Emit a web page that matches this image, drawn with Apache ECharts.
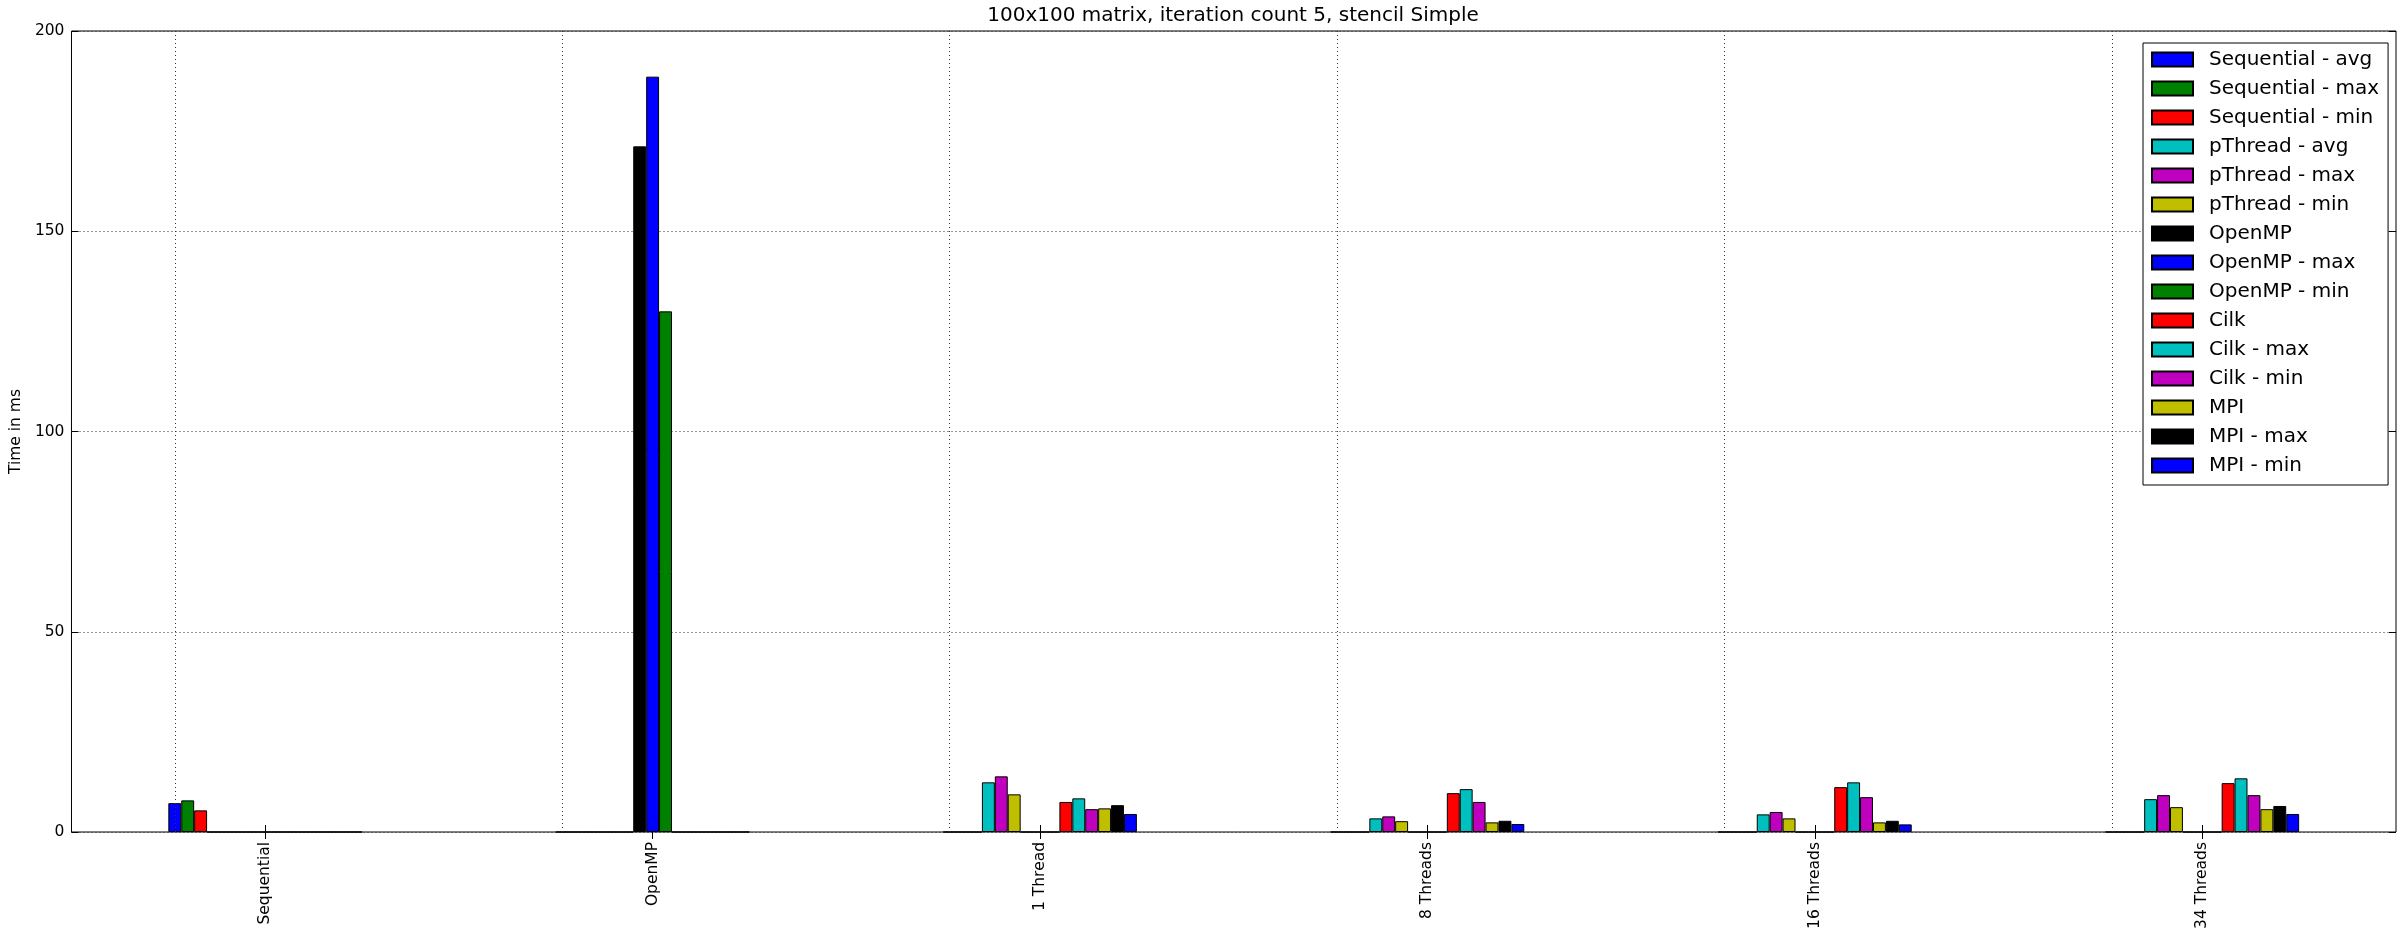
<!DOCTYPE html>
<html>
<head>
<meta charset="utf-8">
<script src="https://cdn.jsdelivr.net/npm/echarts@6/dist/echarts.min.js"></script>
<style>
html,body{margin:0;padding:0;background:#fff;}
#chart{width:2404px;height:940px;}
</style>
</head>
<body>
<div id="chart"></div>
<script>
const categories = ['Sequential', 'OpenMP', '1 Thread', '8 Threads', '16 Threads', '34 Threads'];
const yTicks = [0, 50, 100, 150, 200];

const seqAvg     = [7.2, 0, 0, 0, 0, 0];
const seqMax     = [7.9, 0, 0, 0, 0, 0];
const seqMin     = [5.4, 0, 0, 0, 0, 0];
const pthAvg     = [0, 0, 12.4, 3.4, 4.4, 8.2];
const pthMax     = [0, 0, 13.9, 3.9, 5.0, 9.2];
const pthMin     = [0, 0, 9.4, 2.7, 3.4, 6.2];
const ompAvg     = [0, 171.2, 0, 0, 0, 0];
const ompMax     = [0, 188.6, 0, 0, 0, 0];
const ompMin     = [0, 130.0, 0, 0, 0, 0];
const cilkAvg    = [0, 0, 7.5, 9.7, 11.2, 12.2];
const cilkMax    = [0, 0, 8.4, 10.7, 12.4, 13.4];
const cilkMin    = [0, 0, 5.7, 7.5, 8.7, 9.2];
const mpiAvg     = [0, 0, 5.9, 2.4, 2.4, 5.7];
const mpiMax     = [0, 0, 6.7, 2.8, 2.8, 6.5];
const mpiMin     = [0, 0, 4.5, 2.0, 1.9, 4.5];

const seriesNames = ['Sequential - avg', 'Sequential - max', 'Sequential - min',
  'pThread - avg', 'pThread - max', 'pThread - min',
  'OpenMP', 'OpenMP - max', 'OpenMP - min',
  'Cilk', 'Cilk - max', 'Cilk - min',
  'MPI', 'MPI - max', 'MPI - min'];
const seriesData = [seqAvg, seqMax, seqMin, pthAvg, pthMax, pthMin,
  ompAvg, ompMax, ompMin, cilkAvg, cilkMax, cilkMin, mpiAvg, mpiMax, mpiMin];
const seriesColors = ['#0000ff', '#008000', '#ff0000', '#00bfbf', '#bf00bf', '#bfbf00',
  '#000000', '#0000ff', '#008000', '#ff0000', '#00bfbf', '#bf00bf', '#bfbf00', '#000000', '#0000ff'];

const FONT = 'DejaVu Sans';
const chart = echarts.init(document.getElementById('chart'), null, {renderer: 'canvas'});

const series = seriesNames.map((name, i) => {
  const s = {
    name: name,
    type: 'bar',
    data: seriesData[i],
    barWidth: (100 / 30) + '%',
    barGap: '0%',
    itemStyle: {color: seriesColors[i], borderColor: '#000', borderWidth: 1},
    emphasis: {disabled: true}
  };
  if (i === 0) {
    s.markLine = {
      silent: true,
      symbol: 'none',
      animation: false,
      label: {show: false},
      lineStyle: {color: '#333', type: [1, 3], width: 1},
      data: categories.map(c => ({xAxis: c}))
    };
  }
  return s;
});

const option = {
  animation: false,
  backgroundColor: '#fff',
  title: {
    text: '100x100 matrix, iteration count 5, stencil Simple',
    left: 1233,
    textAlign: 'center',
    top: 6,
    padding: 0,
    textStyle: {fontFamily: FONT, fontSize: 20, fontWeight: 'normal', color: '#000'}
  },
  grid: {left: 70, top: 31, width: 2326, height: 801, show: true, borderColor: '#000', borderWidth: 1, backgroundColor: 'transparent'},
  legend: {
    orient: 'vertical',
    left: 2143,
    top: 43,
    padding: [2, 9, 5, 8],
    itemGap: 0,
    itemWidth: 41,
    itemHeight: 14,
    icon: 'rect',
    borderColor: '#000',
    borderWidth: 1,
    backgroundColor: '#fff',
    selectedMode: false,
    textStyle: {fontFamily: FONT, fontSize: 20, color: '#000', lineHeight: 29, padding: [0, 0, 0, 11]},
    data: seriesNames
  },
  xAxis: [{
    type: 'category',
    data: categories,
    position: 'bottom',
    axisLine: {show: false},
    axisTick: {show: true, alignWithLabel: true, inside: true, length: 7, lineStyle: {color: '#000'}},
    axisLabel: {rotate: 90, fontFamily: FONT, fontSize: 15.5, color: '#000', margin: 10},
    splitLine: {show: false}
  }, {
    type: 'category',
    data: categories,
    position: 'top',
    axisLine: {show: false},
    axisTick: {show: true, alignWithLabel: true, inside: true, length: 7, lineStyle: {color: '#000'}},
    axisLabel: {show: false},
    splitLine: {show: false}
  }],
  yAxis: [{
    type: 'value',
    min: yTicks[0],
    max: yTicks[yTicks.length - 1],
    interval: 50,
    position: 'left',
    name: 'Time in ms',
    nameLocation: 'middle',
    nameGap: 40,
    nameTextStyle: {fontFamily: FONT, fontSize: 15.5, color: '#000'},
    axisLine: {show: false},
    axisTick: {show: true, inside: true, length: 7, lineStyle: {color: '#000'}},
    axisLabel: {fontFamily: FONT, fontSize: 15.5, color: '#000', margin: 7},
    splitLine: {show: true, lineStyle: {color: '#333', type: [1, 3], width: 1}}
  }, {
    type: 'value',
    min: yTicks[0],
    max: yTicks[yTicks.length - 1],
    interval: 50,
    position: 'right',
    axisLine: {show: false},
    axisTick: {show: true, inside: true, length: 7, lineStyle: {color: '#000'}},
    axisLabel: {show: false},
    splitLine: {show: false}
  }],
  series: series
};
chart.setOption(option);
</script>
</body>
</html>
